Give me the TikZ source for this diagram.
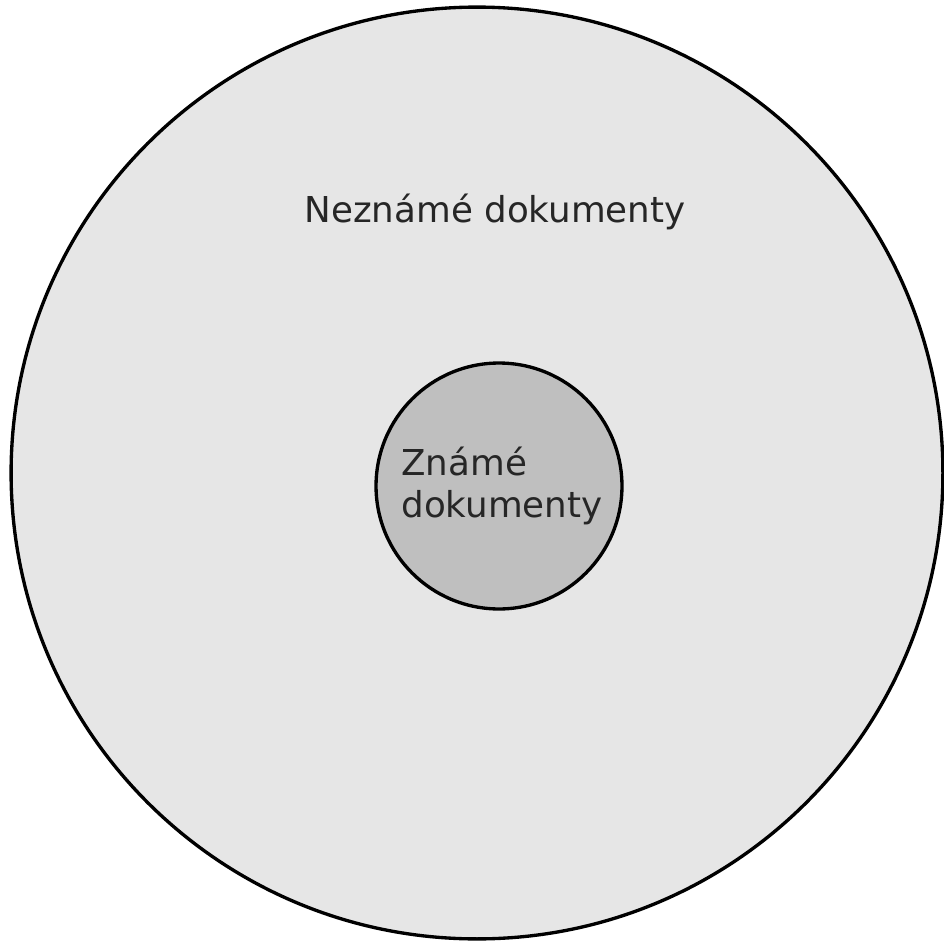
\documentclass[tikz,border=0pt]{standalone}
\usepackage{fontspec}
\setmainfont{DejaVu Sans}
\usetikzlibrary{positioning}
\definecolor{cunknown}{HTML}{e6e6e6}
\definecolor{cknown}{HTML}{bfbfbf}
\definecolor{cline}{HTML}{000000}

\begin{document}
\begin{tikzpicture}[
  x=0.02cm, y=-0.02cm,
  font=\fontsize{20.3pt}{23.9pt}\selectfont,
  set/.style={circle, draw=cline, line width=1.9pt, inner sep=0pt},
  outer/.style={set, fill=cunknown, minimum size=18.64cm},
  inner/.style={set, fill=cknown, minimum size=4.92cm},
  label/.style={inner sep=0pt, text=black!85},
  ]
\useasboundingbox (0,0) rectangle (943,946);
% ---- sets
\node[outer] (unknown) at (477,473) {};
\node[inner] (known)   at (499,486) {};
% ---- labels
\node[label, anchor=base] (unknownlbl) at (495,222) {Neznámé dokumenty};
\node[label, anchor=base west, align=left] (knownlbl) at (401,517)
  {Známé\\dokumenty};
\end{tikzpicture}
\end{document}
